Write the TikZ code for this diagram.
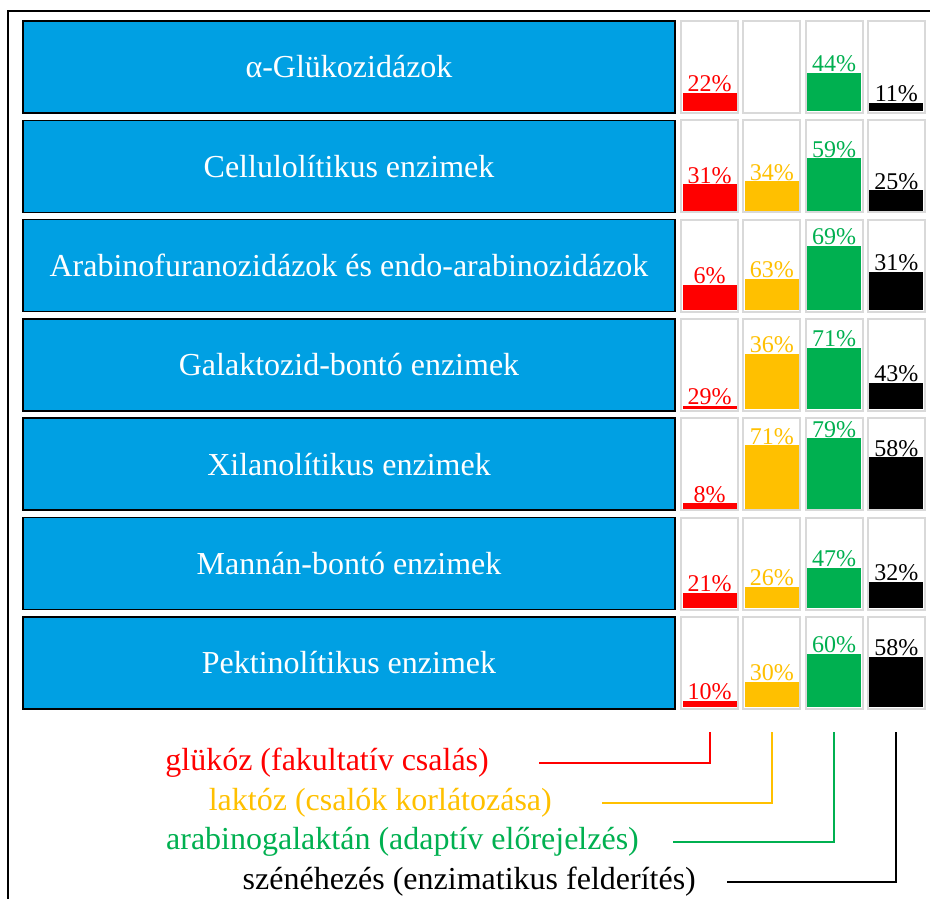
\documentclass[tikz,border=0pt]{standalone}
\usepackage{fontspec}
\setmainfont{Liberation Serif}
\definecolor{enzblue}{RGB}{0,160,227}
\definecolor{glred}{RGB}{255,0,0}
\definecolor{lakyellow}{RGB}{255,192,0}
\definecolor{argreen}{RGB}{0,176,80}
\definecolor{cellgray}{RGB}{217,217,217}
\colorlet{col1}{glred}
\colorlet{col2}{lakyellow}
\colorlet{col3}{argreen}
\colorlet{col4}{black}

\begin{document}
\begin{tikzpicture}[x=1pt,y=-1pt,
  enzbox/.style={draw=black,line width=1.5pt,fill=enzblue},
  enzname/.style={text=white,font=\fontsize{32}{32}\selectfont},
  cell/.style={draw=cellgray,line width=2pt,fill=white},
  pct/.style={font=\fontsize{24}{24}\selectfont,anchor=base,inner sep=0pt},
  legend/.style={font=\fontsize{32}{32}\selectfont,anchor=east,inner sep=0pt},
  link/.style={line width=2pt}]
\useasboundingbox (0,0) rectangle (930,899);
\draw[line width=1.5pt] (930,11) -- (8,11) -- (8,899);

% enzyme groups and empty cells
\foreach \name [count=\r] in {α-Glükozidázok,Cellulolítikus enzimek,
  Arabinofuranozidázok és endo-arabinozidázok,Galaktozid-bontó enzimek,
  Xilanolítikus enzimek,Mannán-bontó enzimek,Pektinolítikus enzimek}{
  \pgfmathsetmacro\rowtop{21+99.3*(\r-1)}
  \draw[enzbox] (23,\rowtop) rectangle (675,\rowtop+92);
  \node[enzname] (enz\r) at (349,\rowtop+46) {\name};
  \foreach \c in {1,...,4}{
    \pgfmathsetmacro\colx{681+62.3*(\c-1)}
    \draw[cell] (\colx,\rowtop) rectangle (\colx+57,\rowtop+92);
  }
}

% bars: row/column/height/label
\foreach \r/\c/\h/\p in {1/1/20/22,1/3/40/44,1/4/10/11,
  2/1/28/31,2/2/31/34,2/3/54/59,2/4/22/25,
  3/1/27/6,3/2/33/63,3/3/66/69,3/4/40/31,
  4/1/5/29,4/2/57/36,4/3/63/71,4/4/28/43,
  5/1/7/8,5/2/65/71,5/3/72/79,5/4/53/58,
  6/1/17/21,6/2/23/26,6/3/42/47,6/4/28/32,
  7/1/8/10,7/2/27/30,7/3/55/60,7/4/52/58}{
  \pgfmathsetmacro\rowbot{113+99.3*(\r-1)}
  \pgfmathsetmacro\colx{681+62.3*(\c-1)}
  \fill[col\c] (\colx+1.5,\rowbot-1.5) rectangle (\colx+55.5,\rowbot-\h);
  \node[pct,text=col\c] (p\r\c) at (\colx+28.5,\rowbot-\h-1) {\p\%};
}

\foreach \c in {1,...,4}
  \coordinate (t\c) at ({709.5+62.3*(\c-1)},732);

% legend
\node[legend,text=glred] (lg1) at (489,763) {glükóz (fakultatív csalás)};
\node[legend,text=lakyellow] (lg2) at (552,803) {laktóz (csalók korlátozása)};
\node[legend,text=argreen] (lg3) at (639,842) {arabinogalaktán (adaptív előrejelzés)};
\node[legend] (lg4) at (696,882) {szénéhezés (enzimatikus felderítés)};

\draw[link,glred] ([xshift=50pt]lg1.east) -| (t1);
\draw[link,lakyellow] ([xshift=50pt]lg2.east) -| (t2);
\draw[link,argreen] ([xshift=34pt]lg3.east) -| (t3);
\draw[link] ([xshift=31pt]lg4.east) -| (t4);
\end{tikzpicture}
\end{document}
